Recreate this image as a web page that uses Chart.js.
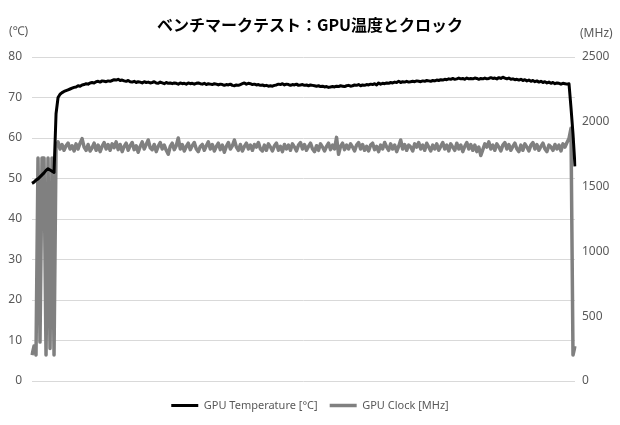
<!DOCTYPE html>
<html>
<head>
<meta charset="utf-8">
<script src="https://cdn.jsdelivr.net/npm/chart.js@4.4.1/dist/chart.umd.min.js"></script>
<style>
html,body{margin:0;padding:0;background:#fff;}
#wrap{width:620px;height:425px;position:relative;}
</style>
</head>
<body>
<div id="wrap"><canvas id="c" width="620" height="425"></canvas></div>
<script>
const chartTitle = 'ベンチマークテスト：GPU温度とクロック';
const seriesNames = ['GPU Temperature [°C]', 'GPU Clock [MHz]'];
const leftUnit = '(℃)';
const rightUnit = '(MHz)';
const tempTicks = [0, 10, 20, 30, 40, 50, 60, 70, 80];
const clockTicks = [0, 500, 1000, 1500, 2000, 2500];

const gpuTemp = [
48.8, 49.1, 49.6, 49.9, 50.4, 50.9, 51.4, 52.0, 52.4, 52.1,
51.8, 51.5, 66.0, 70.0, 70.8, 71.2, 71.5, 71.7, 71.9, 72.1,
72.3, 72.5, 72.6, 72.9, 72.8, 73.1, 73.2, 73.4, 73.3, 73.6,
73.7, 73.6, 73.9, 74.0, 73.8, 74.1, 74.0, 73.9, 74.1, 74.0,
74.2, 74.4, 74.3, 74.5, 74.2, 74.3, 74.1, 74.0, 74.2, 73.9,
73.8, 74.0, 73.7, 73.9, 73.8, 73.6, 73.9, 73.7, 73.8, 73.6,
73.7, 73.9, 73.6, 73.5, 73.8, 73.6, 73.4, 73.7, 73.5, 73.6,
73.4, 73.6, 73.5, 73.3, 73.6, 73.4, 73.5, 73.3, 73.6, 73.4,
73.5, 73.3, 73.5, 73.6, 73.4, 73.3, 73.5, 73.2, 73.4, 73.3,
73.2, 73.4, 73.3, 73.1, 73.3, 73.2, 73.0, 73.2, 73.1, 73.3,
73.0, 72.9, 73.1, 73.0, 73.2, 73.4, 73.6, 73.3, 73.5, 73.4,
73.2, 73.3, 73.1, 73.2, 73.0, 73.1, 72.9, 73.0, 72.8, 72.9,
72.8, 73.0, 73.1, 73.3, 73.2, 73.4, 73.1, 73.3, 73.2, 73.0,
73.2, 73.1, 73.3, 73.0, 73.1, 73.2, 73.0, 73.1, 72.9, 73.1,
73.0, 72.9, 72.8, 72.9, 72.7, 72.8, 72.6, 72.7, 72.5, 72.6,
72.7, 72.6, 72.8, 72.7, 72.9, 72.8, 72.7, 72.9, 73.0, 72.8,
72.9, 73.1, 73.0, 73.2, 72.9, 73.1, 73.0, 73.2, 73.1, 73.3,
73.2, 73.4, 73.1, 73.6, 73.3, 73.5, 73.4, 73.6, 73.5, 73.7,
73.6, 73.8, 73.7, 74.0, 73.7, 73.9, 73.8, 74.0, 73.8, 73.9,
74.0, 73.9, 74.1, 74.0, 73.9, 74.1, 74.0, 74.2, 74.1, 74.0,
74.2, 74.1, 74.3, 74.2, 74.4, 74.3, 74.5, 74.4, 74.6, 74.5,
74.7, 74.5, 74.6, 74.8, 74.6, 74.7, 74.5, 74.8, 74.6, 74.7,
74.6, 74.8, 74.7, 74.5, 74.7, 74.6, 74.8, 74.6, 74.7, 74.9,
74.7, 74.8, 74.6, 74.9, 74.7, 75.0, 74.8, 74.6, 74.8, 74.5,
74.6, 74.4, 74.5, 74.3, 74.5, 74.2, 74.4, 74.1, 74.3, 74.0,
74.2, 73.9, 74.1, 73.8, 74.0, 73.7, 73.9, 73.6, 73.8, 73.5,
73.7, 73.4, 73.6, 73.5, 73.3, 73.5, 73.4, 73.3, 73.4, 67.5,
61.0, 53.0
];

const gpuClock = [
200, 270, 200, 1720, 300, 1720, 1720, 200, 1720, 250,
1720, 200, 1810, 1845, 1790, 1825, 1780, 1815, 1835, 1790,
1815, 1775, 1830, 1790, 1835, 1870, 1805, 1780, 1825, 1775,
1800, 1835, 1780, 1820, 1770, 1810, 1840, 1790, 1825, 1780,
1830, 1800, 1845, 1785, 1825, 1770, 1810, 1835, 1780, 1815,
1840, 1785, 1815, 1765, 1810, 1845, 1790, 1825, 1860, 1800,
1785, 1825, 1770, 1810, 1840, 1790, 1820, 1780, 1750, 1810,
1835, 1785, 1815, 1875, 1790, 1825, 1775, 1810, 1835, 1785,
1815, 1840, 1790, 1770, 1810, 1825, 1780, 1815, 1845, 1790,
1825, 1775, 1810, 1835, 1785, 1820, 1765, 1810, 1840, 1790,
1815, 1860, 1805, 1780, 1825, 1775, 1810, 1835, 1790, 1820,
1780, 1825, 1805, 1840, 1790, 1775, 1820, 1780, 1830, 1805,
1775, 1815, 1835, 1780, 1810, 1770, 1825, 1790, 1820, 1780,
1830, 1805, 1775, 1820, 1840, 1790, 1825, 1780, 1810, 1835,
1790, 1770, 1815, 1780, 1830, 1805, 1775, 1810, 1835, 1785,
1820, 1790, 1880, 1750, 1810, 1835, 1785, 1820, 1790, 1830,
1805, 1775, 1820, 1840, 1790, 1825, 1780, 1810, 1775, 1820,
1835, 1785, 1810, 1770, 1820, 1790, 1840, 1805, 1780, 1830,
1790, 1820, 1770, 1810, 1860, 1790, 1825, 1780, 1820, 1805,
1775, 1830, 1805, 1840, 1790, 1820, 1780, 1835, 1805, 1775,
1820, 1790, 1830, 1780, 1810, 1840, 1790, 1820, 1775, 1830,
1805, 1780, 1835, 1790, 1820, 1770, 1810, 1840, 1790, 1825,
1780, 1820, 1770, 1805, 1740, 1785, 1830, 1805, 1845, 1790,
1820, 1780, 1830, 1805, 1775, 1820, 1840, 1790, 1825, 1780,
1810, 1835, 1790, 1770, 1820, 1780, 1830, 1805, 1775, 1820,
1840, 1790, 1825, 1780, 1810, 1835, 1790, 1770, 1820, 1805,
1780, 1825, 1790, 1820, 1775, 1830, 1805, 1840, 1870, 1950,
200, 270
];

const samples = gpuTemp.map((_, i) => i + 1);

const LABEL_FONT = '"Noto Sans", "DejaVu Sans", sans-serif';
const TEXT_COLOR = '#595959';

const unitPlugin = {
  id: 'units',
  afterDraw(chart) {
    const ctx = chart.ctx;
    ctx.save();
    ctx.fillStyle = TEXT_COLOR;
    ctx.font = '12px ' + LABEL_FONT;
    ctx.textBaseline = 'middle';
    ctx.textAlign = 'left';
    ctx.fillText(leftUnit, 9, 32);
    ctx.fillText(rightUnit, 580, 34);
    ctx.restore();
  }
};

new Chart(document.getElementById('c'), {
  type: 'line',
  data: {
    labels: samples,
    datasets: [
      {
        label: seriesNames[0],
        data: gpuTemp,
        yAxisID: 'yT',
        borderColor: '#000000',
        backgroundColor: '#000000',
        borderWidth: 3,
        pointRadius: 0,
        tension: 0,
        borderJoinStyle: 'round'
      },
      {
        label: seriesNames[1],
        data: gpuClock,
        yAxisID: 'yC',
        borderColor: '#808080',
        backgroundColor: '#808080',
        borderWidth: 3.5,
        pointRadius: 0,
        tension: 0,
        borderJoinStyle: 'round'
      }
    ]
  },
  options: {
    responsive: false,
    animation: false,
    devicePixelRatio: 1,
    layout: { padding: { left: 0, right: 0, top: 0, bottom: 4 } },
    plugins: {
      title: {
        display: true,
        text: chartTitle,
        color: '#000000',
        font: { family: '"Noto Sans CJK JP", sans-serif', size: 16, weight: 'bold', lineHeight: 1.2 },
        padding: { top: 15, bottom: 22.8 }
      },
      legend: {
        display: true,
        position: 'bottom',
        labels: {
          usePointStyle: true,
          pointStyle: 'line',
          pointStyleWidth: 27,
          color: TEXT_COLOR,
          font: { family: LABEL_FONT, size: 11 },
          padding: 12
        }
      },
      tooltip: { enabled: false }
    },
    scales: {
      x: {
        display: true,
        offset: false,
        grid: { display: false, drawTicks: false },
        border: { display: false },
        ticks: { display: false },
        afterFit(scale) { scale.height = 7; }
      },
      yT: {
        type: 'linear',
        position: 'left',
        min: 0,
        max: 80,
        afterBuildTicks(scale) { scale.ticks = tempTicks.map(v => ({ value: v })); },
        afterFit(scale) { scale.width = 32; },
        grid: { color: '#d9d9d9', lineWidth: 1, drawTicks: false },
        border: { display: false },
        ticks: { color: TEXT_COLOR, font: { family: LABEL_FONT, size: 12 }, padding: 10, callback: v => String(v) }
      },
      yC: {
        type: 'linear',
        position: 'right',
        min: 0,
        max: 2500,
        afterBuildTicks(scale) { scale.ticks = clockTicks.map(v => ({ value: v })); },
        afterFit(scale) { scale.width = 45; },
        grid: { display: false, drawTicks: false },
        border: { display: false },
        ticks: { color: TEXT_COLOR, font: { family: LABEL_FONT, size: 12 }, padding: 7, callback: v => String(v) }
      }
    }
  },
  plugins: [unitPlugin]
});
</script>
</body>
</html>
